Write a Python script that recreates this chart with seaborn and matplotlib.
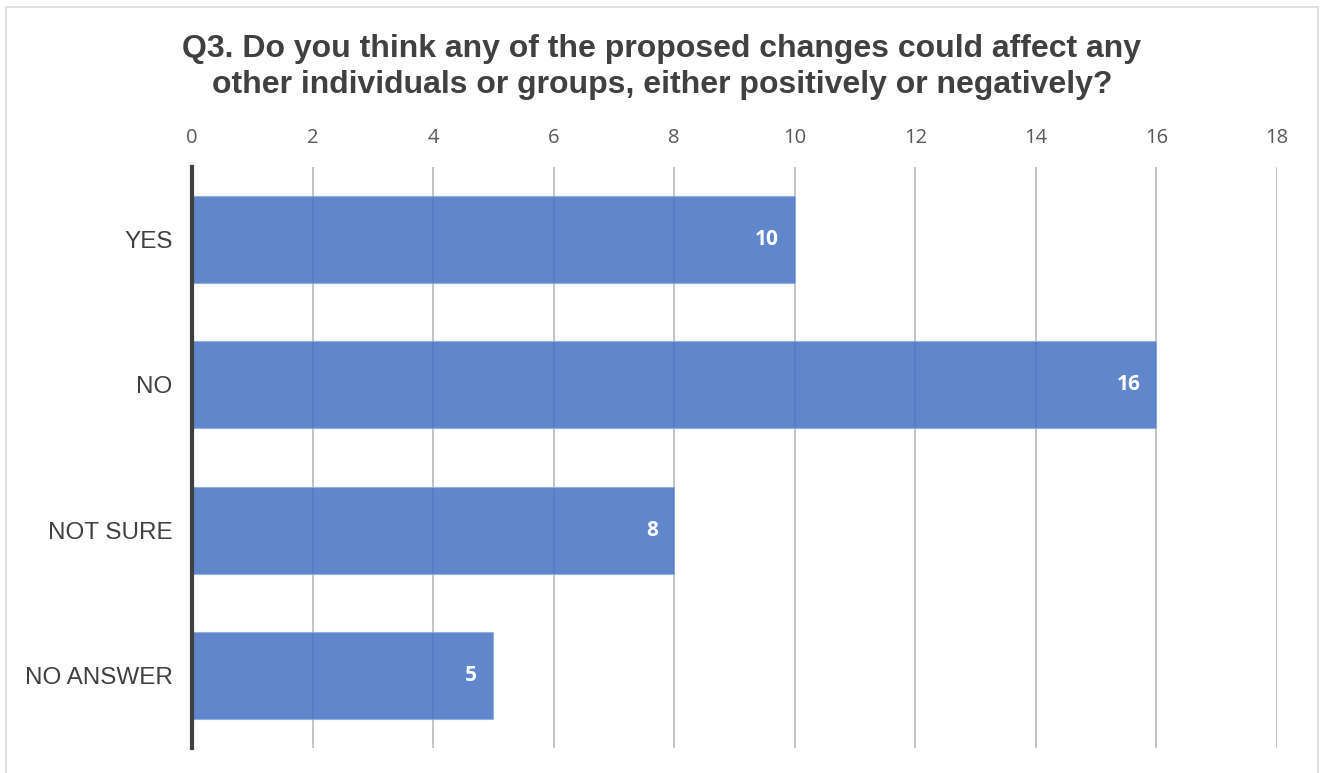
import matplotlib
matplotlib.use("Agg")
import matplotlib.pyplot as plt
import seaborn as sns
import pandas as pd
from matplotlib.patches import Rectangle

categories = ["YES", "NO", "NOT SURE", "NO ANSWER"]
values = [10, 16, 8, 5]
xticks = [0, 2, 4, 6, 8, 10, 12, 14, 16, 18]
title = "Q3. Do you think any of the proposed changes could affect any\nother individuals or groups, either positively or negatively?"

sns.set_theme(style="white")
plt.rcParams['font.family'] = ['Liberation Sans', 'DejaVu Sans']

df = pd.DataFrame({"cat": categories, "val": values})

W, H = 1324, 773
fig = plt.figure(figsize=(W / 100, H / 100), dpi=100)
ax = fig.add_axes([192 / W, 1 - 748 / H, (1277 - 192) / W, (748 - 167) / H])

sns.barplot(data=df, y="cat", x="val", orient="h", color="#4472C4", width=0.6,
            saturation=1, ax=ax, zorder=3)
for p in ax.patches:
    p.set_facecolor((0.267, 0.447, 0.769, 0.85))
    p.set_edgecolor((0.55, 0.68, 0.88, 0.9))
    p.set_linewidth(0.8)

ax.set_xlim(0, 18)
ax.set_xticks(xticks)
ax.xaxis.tick_top()
ax.tick_params(axis="x", length=0, pad=13.5, labelsize=14.5, labelcolor="#595959")
for lbl in ax.get_xticklabels():
    lbl.set_fontfamily("Open Sans")
ax.tick_params(axis="y", length=0, pad=14, labelsize=17.5, labelcolor="#404040")
ax.set_xlabel("")
ax.set_ylabel("")
ax.grid(axis="x", color="#bfbfbf", linewidth=1.3, zorder=0)
ax.set_axisbelow(True)
for s in ["top", "right", "bottom"]:
    ax.spines[s].set_visible(False)
ax.spines["left"].set_color("#404040")
ax.spines["left"].set_linewidth(3)
ax.spines["left"].set_zorder(5)

for i, v in enumerate(values):
    ax.text(v - 0.27, i, str(v), ha="right", va="center", color="white",
            fontsize=15, fontweight="bold", family="Open Sans", zorder=6)

fig.text(0.5, 1 - 67 / H, title, ha="center", va="center",
         fontsize=23, fontweight="bold", color="#404040", linespacing=1.28)

fig.patches.append(Rectangle((6 / W, -0.01), (1318 - 6) / W, 1 - 7 / H + 0.01,
                             transform=fig.transFigure, fill=False,
                             edgecolor="#d9d9d9", linewidth=1.2))

fig.savefig("out.png", dpi=100, facecolor="white")
